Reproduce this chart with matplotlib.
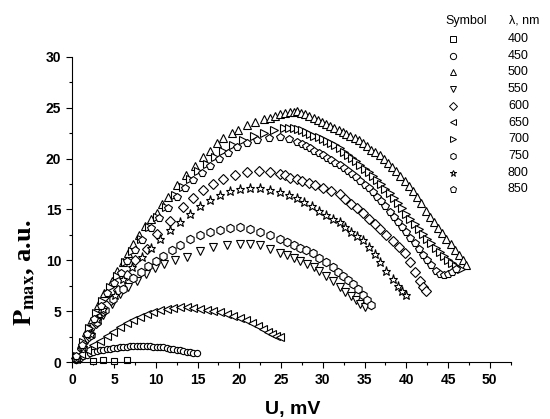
import matplotlib
matplotlib.use("Agg")
import matplotlib.pyplot as plt
from matplotlib.lines import Line2D

plt.rcParams["font.family"] = ["Liberation Sans", "DejaVu Sans"]
plt.rcParams["mathtext.fontset"] = "stix"

# wavelengths (nm) and marker per series
wavelengths = [400, 450, 500, 550, 600, 650, 700, 750, 800, 850]
markers = ["s", "o", "^", "v", "D", "<", ">", "h", "*", "p"]

# U (mV) / Pmax (a.u.)
u_400 = [2.5, 3.7, 5.0, 6.6]
p_400 = [0.12, 0.15, 0.12, 0.15]

u_450 = [0.5, 0.9, 1.3, 1.7, 2.1, 2.5, 2.9, 3.3, 3.7, 4.1, 4.5, 4.9, 5.3, 5.7, 6.1,
         6.5, 6.9, 7.3, 7.7, 8.1, 8.5, 8.9, 9.3, 9.7, 10.1, 10.5, 10.9, 11.3, 11.7,
         12.1, 12.5, 12.9, 13.3, 13.7, 14.1, 14.5, 14.9]
p_450 = [0.2, 0.35, 0.55, 0.7, 0.85, 1.0, 1.08, 1.15, 1.22, 1.28, 1.32, 1.37, 1.42,
         1.46, 1.5, 1.52, 1.54, 1.55, 1.56, 1.57, 1.56, 1.55, 1.54, 1.52, 1.5, 1.48,
         1.43, 1.38, 1.32, 1.27, 1.2, 1.15, 1.08, 1.02, 0.97, 0.92, 0.87]

u_500 = [0.5, 1.0, 1.6, 2.2, 3.1, 3.8, 4.7, 5.4, 6.1, 6.7, 7.3, 8.0, 8.7, 9.4, 10.1,
         10.8, 11.5, 12.5, 13.6, 14.7, 15.7, 16.5, 17.3, 18.1, 19.1, 19.9, 20.9, 21.9,
         22.9, 23.7, 24.3, 24.9, 25.5, 26.1, 26.5, 26.9, 27.4, 27.9, 28.4, 28.9, 29.4,
         29.9, 30.4, 30.9, 31.4, 31.9, 32.4, 32.8, 33.3, 33.8, 34.3, 34.8, 35.3, 35.8,
         36.3, 36.8, 37.3, 37.8, 38.3, 38.8, 39.3, 39.8, 40.3, 40.8, 41.3, 41.8, 42.3,
         42.8, 43.3, 43.8, 44.3, 44.8, 45.3, 45.8, 46.3, 46.8, 47.2]
p_500 = [0.5, 1.8, 3.0, 4.0, 5.6, 6.8, 8.0, 9.0, 9.8, 10.7, 11.6, 12.5, 13.4, 14.1,
         14.7, 15.5, 16.2, 17.4, 18.4, 19.3, 20.2, 20.8, 21.5, 22.0, 22.5, 22.8, 23.3,
         23.6, 23.9, 24.0, 24.2, 24.4, 24.5, 24.6, 24.6, 24.7, 24.5, 24.4, 24.2, 24.0,
         23.8, 23.6, 23.4, 23.2, 23.0, 22.8, 22.6, 22.4, 22.2, 22.0, 21.8, 21.5, 21.2,
         20.9, 20.7, 20.4, 20.0, 19.6, 19.2, 18.8, 18.3, 17.8, 17.3, 16.8, 16.2, 15.6,
         14.9, 14.3, 13.8, 13.2, 12.7, 12.1, 11.6, 11.0, 10.5, 10.0, 9.5]

u_550 = [0.5, 1.2, 1.8, 2.5, 3.1, 3.7, 4.7, 5.7, 6.7, 7.7, 8.8, 9.9, 11.0, 12.3, 13.7,
         15.3, 16.9, 18.5, 20.1, 21.3, 22.5, 23.7, 24.9, 25.7, 26.5, 27.3, 28.1, 28.9,
         29.6, 30.4, 31.2, 32.0, 32.7, 33.4, 34.0, 34.5, 35.0]
p_550 = [0.3, 1.2, 2.2, 3.4, 4.0, 4.6, 5.7, 6.7, 7.4, 8.0, 8.7, 9.2, 9.6, 10.0, 10.3,
         10.9, 11.3, 11.5, 11.6, 11.6, 11.5, 11.1, 10.7, 10.5, 10.2, 9.9, 9.6, 9.3,
         9.0, 8.5, 8.0, 7.4, 6.9, 6.5, 6.1, 5.7, 5.4]

u_600 = [0.5, 1.2, 2.0, 2.8, 3.7, 4.6, 5.5, 6.5, 7.5, 8.9, 10.2, 11.7, 13.3, 14.5,
         15.7, 16.9, 18.1, 19.5, 20.9, 22.3, 23.7, 24.9, 25.5, 26.1, 26.9, 27.5, 28.3,
         29.1, 30.0, 31.0, 32.0, 32.7, 33.4, 34.1, 34.8, 35.5, 36.2, 36.9, 37.6, 38.4,
         39.1, 39.8, 40.5, 41.1, 41.6, 42.0, 42.4]
p_600 = [0.4, 1.3, 2.6, 3.8, 5.0, 6.1, 7.1, 8.6, 10.0, 11.1, 12.6, 13.9, 15.2, 16.1,
         16.9, 17.5, 18.0, 18.4, 18.7, 18.8, 18.7, 18.5, 18.4, 18.1, 18.0, 17.8, 17.6,
         17.4, 17.1, 16.8, 16.5, 16.0, 15.5, 15.1, 14.7, 14.1, 13.6, 13.1, 12.5, 11.9,
         11.3, 10.7, 9.8, 8.9, 8.0, 7.4, 7.0]

u_650 = [0.4, 1.0, 1.7, 2.5, 3.3, 4.1, 4.9, 5.7, 6.5, 7.3, 8.1, 8.9, 9.7, 10.5, 11.3,
         12.1, 12.9, 13.7, 14.5, 15.3, 16.1, 16.9, 17.7, 18.5, 19.3, 20.1, 20.8, 21.5,
         22.2, 22.8, 23.4, 23.9, 24.4, 24.9]
p_650 = [0.3, 0.8, 1.2, 1.7, 2.1, 2.6, 3.0, 3.4, 3.8, 4.1, 4.4, 4.7, 4.9, 5.1, 5.2,
         5.3, 5.4, 5.4, 5.3, 5.25, 5.1, 5.0, 4.9, 4.7, 4.5, 4.3, 4.1, 3.8, 3.5, 3.2,
         3.0, 2.8, 2.6, 2.5]

u_700 = [0.6, 1.3, 2.0, 2.8, 3.6, 4.5, 5.4, 6.3, 7.2, 8.2, 9.2, 10.2, 11.2, 12.3,
         13.2, 14.1, 15.1, 16.1, 17.1, 18.1, 19.3, 20.5, 21.7, 22.9, 24.1, 25.3, 25.9,
         26.5, 27.0, 27.5, 28.0, 28.5, 29.0, 29.5, 30.0, 30.5, 31.0, 31.5, 32.0, 32.5,
         33.0, 33.5, 34.0, 34.5, 35.0, 35.5, 36.0, 36.5, 37.0, 37.5, 38.0, 38.5, 39.0,
         39.5, 40.0, 40.5, 41.0, 41.5, 42.0, 42.5, 43.0, 43.5, 44.0, 44.5, 45.0, 45.5,
         46.0, 46.5]
p_700 = [0.6, 2.0, 3.3, 4.8, 6.0, 7.4, 8.5, 9.8, 10.9, 12.1, 13.3, 14.3, 15.2, 16.4,
         17.2, 18.0, 18.8, 19.5, 20.2, 20.8, 21.3, 21.8, 22.2, 22.5, 22.8, 23.0, 23.0,
         23.0, 22.9, 22.8, 22.6, 22.4, 22.2, 22.1, 21.9, 21.7, 21.5, 21.3, 21.0, 20.7,
         20.4, 20.1, 19.8, 19.4, 19.0, 18.7, 18.3, 17.9, 17.5, 17.0, 16.6, 16.1, 15.6,
         15.1, 14.6, 14.1, 13.6, 13.1, 12.6, 12.1, 11.7, 11.2, 10.8, 10.4, 10.0, 9.7,
         9.4, 9.1]

u_750 = [0.5, 1.3, 2.2, 3.0, 3.9, 4.9, 6.1, 7.3, 8.2, 9.1, 10.0, 10.9, 11.9, 12.9,
         14.1, 15.3, 16.5, 17.7, 18.9, 20.1, 21.3, 22.5, 23.7, 24.9, 25.7, 26.5, 27.3,
         28.0, 28.8, 29.6, 30.4, 31.2, 31.8, 32.4, 33.0, 33.6, 34.2, 34.8, 35.3, 35.8]
p_750 = [0.3, 1.4, 2.7, 3.9, 5.1, 6.2, 7.2, 8.3, 8.9, 9.4, 9.9, 10.4, 11.0, 11.5,
         12.1, 12.5, 12.8, 13.0, 13.2, 13.3, 13.1, 12.8, 12.5, 12.1, 11.8, 11.5, 11.2,
         11.0, 10.7, 10.2, 9.8, 9.3, 8.9, 8.5, 8.1, 7.7, 7.2, 6.6, 6.1, 5.6]

u_800 = [0.5, 1.3, 2.2, 3.0, 3.7, 5.1, 6.1, 7.2, 8.3, 9.4, 10.5, 11.7, 12.9, 14.1,
         15.3, 16.5, 17.7, 18.9, 20.1, 21.3, 22.5, 23.7, 24.9, 25.9, 26.9, 27.8, 28.7,
         29.6, 30.4, 31.2, 32.0, 32.7, 33.4, 34.1, 34.8, 35.5, 36.2, 36.9, 37.6, 38.4,
         39.0, 39.5, 40.0]
p_800 = [0.4, 1.5, 2.8, 4.2, 5.2, 6.6, 8.2, 9.3, 10.3, 11.2, 12.1, 13.0, 13.8, 14.6,
         15.3, 15.9, 16.4, 16.8, 17.0, 17.1, 17.1, 16.9, 16.7, 16.4, 16.1, 15.7, 15.3,
         14.9, 14.5, 14.1, 13.8, 13.3, 12.8, 12.4, 12.0, 11.3, 10.6, 9.8, 9.0, 8.2,
         7.5, 7.0, 6.6]

u_850 = [0.5, 1.2, 1.8, 2.6, 3.4, 4.2, 5.0, 5.8, 6.6, 7.5, 8.4, 9.4, 10.4, 11.4, 12.5,
         13.5, 14.5, 15.5, 16.5, 17.6, 18.6, 19.7, 20.9, 22.1, 23.5, 24.9, 25.9, 26.9,
         27.5, 28.0, 28.5, 29.0, 29.5, 30.0, 30.5, 31.0, 31.5, 32.0, 32.5, 33.0, 33.5,
         34.0, 34.5, 35.0, 35.5, 36.0, 36.5, 37.0, 37.5, 38.0, 38.5, 39.0, 39.5, 40.0,
         40.5, 41.0, 41.5, 42.0, 42.5, 43.0, 43.5, 44.0, 44.5, 45.0, 45.5, 46.0]
p_850 = [0.6, 1.7, 2.8, 4.2, 5.5, 6.8, 7.8, 8.8, 9.9, 11.0, 12.0, 13.2, 14.2, 15.1,
         16.2, 17.1, 17.9, 18.6, 19.3, 20.0, 20.6, 21.1, 21.5, 21.8, 22.0, 22.1, 21.9,
         21.6, 21.4, 21.2, 21.0, 20.8, 20.6, 20.4, 20.1, 19.9, 19.6, 19.4, 19.1, 18.8,
         18.5, 18.2, 17.8, 17.4, 17.1, 16.7, 16.2, 15.8, 15.3, 14.8, 14.3, 13.8, 13.3,
         12.8, 12.2, 11.7, 11.1, 10.5, 10.0, 9.5, 9.0, 8.7, 8.6, 8.7, 8.9, 9.1]

series_u = [u_400, u_450, u_500, u_550, u_600, u_650, u_700, u_750, u_800, u_850]
series_p = [p_400, p_450, p_500, p_550, p_600, p_650, p_700, p_750, p_800, p_850]
sizes = [5.0, 4.5, 6.0, 6.0, 5.5, 6.0, 6.0, 6.0, 6.5, 6.0]

fig = plt.figure(figsize=(5.5, 4.19), dpi=100)
ax = fig.add_axes([0.1315, 0.136, 0.7985, 0.728])

for u, p, m, ms in zip(series_u, series_p, markers, sizes):
    ax.plot(u, p, linestyle="none", marker=m, markersize=ms, markerfacecolor="white",
            markeredgecolor="black", markeredgewidth=0.8, clip_on=False)

ax.set_xlim(0, 52.6)
ax.set_ylim(0, 30)
ax.set_xticks(range(0, 51, 5))
ax.set_xticks([x + 2.5 for x in range(0, 51, 5)], minor=True)
ax.set_yticks(range(0, 31, 5))
ax.set_yticks([y + 2.5 for y in range(0, 30, 5)], minor=True)
ax.spines["top"].set_visible(False)
ax.spines["right"].set_visible(False)
ax.tick_params(which="major", direction="out", length=4, width=0.8, labelsize=10, pad=4)
ax.tick_params(which="minor", direction="out", length=2.5, width=0.8)
for lbl in ax.get_xticklabels() + ax.get_yticklabels():
    lbl.set_fontweight("bold")

fig.text(0.533, 0.022, "U, mV", fontsize=14, fontweight="bold", ha="center", va="center")
fig.text(0.045, 0.35, r"$\mathbf{P_{max}}$, a.u.", fontsize=19, rotation=90,
         family=["Liberation Serif", "DejaVu Serif"], fontweight="bold",
         ha="center", va="center")

# legend table
fig.text(0.848, 0.95, "Symbol", fontsize=9, ha="center", va="center")
fig.text(0.925, 0.95, "λ, nm", fontsize=9, ha="left", va="center")
for i, (wl, m) in enumerate(zip(wavelengths, markers)):
    yy = 1 - (39 + i * 16.7) / 419
    fig.add_artist(Line2D([453 / 550], [yy], transform=fig.transFigure, marker=m,
                          markersize=4.5, markerfacecolor="white",
                          markeredgecolor="black", markeredgewidth=0.7,
                          linestyle="none"))
    fig.text(508 / 550, yy, str(wl), fontsize=9, ha="left", va="center")

fig.savefig("out.png", dpi=100)
